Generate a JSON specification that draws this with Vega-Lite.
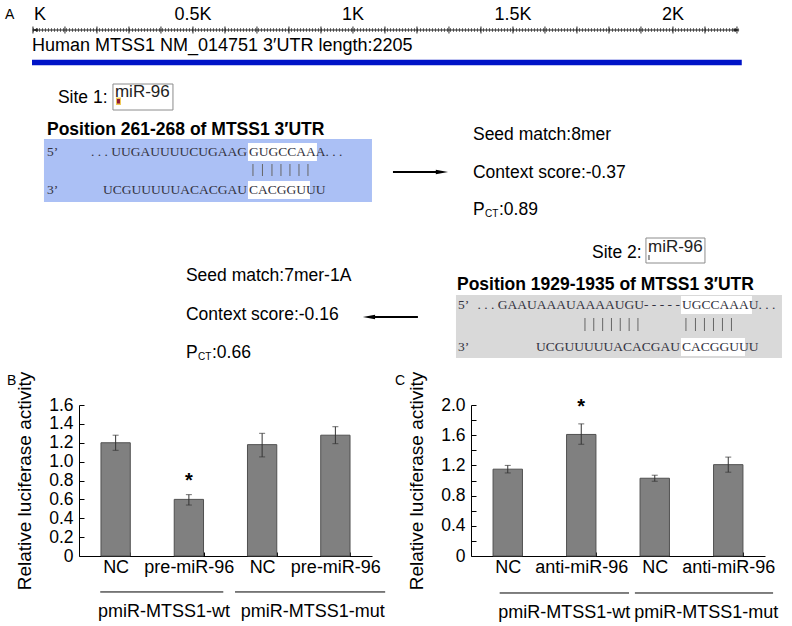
{
  "$schema": "https://vega.github.io/schema/vega-lite/v6.json",
  "padding": 0,
  "background": "white",
  "bounds": "flush",
  "spacing": 10,
  "config": {
    "font": "Liberation Sans",
    "view": {"stroke": null},
    "text": {"font": "Liberation Sans"},
    "axis": {"domainColor": "black", "tickColor": "black", "labelColor": "black", "titleColor": "black", "grid": false, "labelFont": "Liberation Sans", "titleFont": "Liberation Sans", "labelOverlap": false},
    "axisY": {"labelOverlap": false}
  },
  "vconcat": [
    {
      "width": 792,
      "height": 395,
      "encoding": {
        "x": {"field": "x", "type": "quantitative", "scale": {"domain": [-103, 2372], "nice": false, "zero": false}, "axis": null},
        "y": {"field": "y", "type": "quantitative", "scale": {"domain": [0, 395], "nice": false, "zero": false, "reverse": true}, "axis": null}
      },
      "layer": [
        {
          "data": {"values": [
            {"k": "blue", "x": 34.4, "x2": 1059.4, "y": 139, "y2": 202},
            {"k": "gray", "x": 1321.9, "x2": 2340.6, "y": 295, "y2": 358},
            {"k": "white", "x": 671.9, "x2": 887.5, "y": 143, "y2": 161},
            {"k": "white", "x": 671.9, "x2": 865.6, "y": 181, "y2": 199},
            {"k": "white", "x": 2025, "x2": 2246.9, "y": 296, "y2": 314},
            {"k": "white", "x": 2025, "x2": 2225, "y": 338, "y2": 356}
          ]},
          "mark": {"type": "rect"},
          "encoding": {
            "x2": {"field": "x2"}, "y2": {"field": "y2"},
            "fill": {"field": "k", "type": "nominal", "scale": {"domain": ["blue", "gray", "white", "yellow", "red", "mark"], "range": ["#abc0f5", "#d9d9d9", "#ffffff", "#f0c850", "#8e1838", "#9a9a9a"]}, "legend": null}
          }
        },
        {
          "data": {"values": [
            {"x": 250, "x2": 437.5, "y": 84, "y2": 110},
            {"x": 1915.6, "x2": 2100, "y": 238, "y2": 263}
          ]},
          "mark": {"type": "rect", "fill": "white", "stroke": "#8c8c8c", "strokeWidth": 1},
          "encoding": {"x2": {"field": "x2"}, "y2": {"field": "y2"}}
        },
        {
          "data": {"values": [
            {"k": "yellow", "x": 259.4, "x2": 275, "y": 97.5, "y2": 105},
            {"k": "red", "x": 262.5, "x2": 271.9, "y": 99, "y2": 103.5},
            {"k": "mark", "x": 1921.9, "x2": 1928.1, "y": 255, "y2": 260}
          ]},
          "mark": {"type": "rect"},
          "encoding": {
            "x2": {"field": "x2"}, "y2": {"field": "y2"},
            "fill": {"field": "k", "type": "nominal", "scale": {"domain": ["blue", "gray", "white", "yellow", "red", "mark"], "range": ["#abc0f5", "#d9d9d9", "#ffffff", "#f0c850", "#8e1838", "#9a9a9a"]}, "legend": null}
          }
        },
        {
          "data": {"values": [{"x": 0, "x2": 2205, "y": 30}]},
          "mark": {"type": "rule", "color": "#222222", "strokeWidth": 1},
          "encoding": {"x2": {"field": "x2"}}
        },
        {
          "data": {"values": [{"x": 0, "x2": 2205, "y": 30}]},
          "mark": {"type": "rule", "color": "#444444", "strokeWidth": 3.5, "strokeDash": [1, 2]},
          "encoding": {"x2": {"field": "x2"}}
        },
        {
          "data": {"values": [
            {"x": 0, "y": 26.5, "y2": 33.5}, {"x": 100, "y": 26.5, "y2": 33.5}, {"x": 200, "y": 26.5, "y2": 33.5},
            {"x": 300, "y": 26.5, "y2": 33.5}, {"x": 400, "y": 26.5, "y2": 33.5}, {"x": 500, "y": 26.5, "y2": 33.5},
            {"x": 600, "y": 26.5, "y2": 33.5}, {"x": 700, "y": 26.5, "y2": 33.5}, {"x": 800, "y": 26.5, "y2": 33.5},
            {"x": 900, "y": 26.5, "y2": 33.5}, {"x": 1000, "y": 26.5, "y2": 33.5}, {"x": 1100, "y": 26.5, "y2": 33.5},
            {"x": 1200, "y": 26.5, "y2": 33.5}, {"x": 1300, "y": 26.5, "y2": 33.5}, {"x": 1400, "y": 26.5, "y2": 33.5},
            {"x": 1500, "y": 26.5, "y2": 33.5}, {"x": 1600, "y": 26.5, "y2": 33.5}, {"x": 1700, "y": 26.5, "y2": 33.5},
            {"x": 1800, "y": 26.5, "y2": 33.5}, {"x": 1900, "y": 26.5, "y2": 33.5}, {"x": 2000, "y": 26.5, "y2": 33.5},
            {"x": 2100, "y": 26.5, "y2": 33.5}, {"x": 2200, "y": 26.5, "y2": 33.5}
          ]},
          "mark": {"type": "rule", "color": "#222222", "strokeWidth": 1},
          "encoding": {"y2": {"field": "y2"}}
        },
        {
          "data": {"values": [{"x": 6, "y": 30}]},
          "mark": {"type": "point", "shape": "M 1 -0.6 L -1 0 L 1 0.6 Z", "filled": true, "color": "#222222", "opacity": 1, "size": 36},
          "encoding": {}
        },
        {
          "data": {"values": [{"x": 2199, "y": 30}]},
          "mark": {"type": "point", "shape": "M -1 -0.6 L 1 0 L -1 0.6 Z", "filled": true, "color": "#222222", "opacity": 1, "size": 36},
          "encoding": {}
        },
        {
          "data": {"values": [{"x": -3, "x2": 2215, "y": 62.5}]},
          "mark": {"type": "rule", "color": "#0013c7", "strokeWidth": 5.5},
          "encoding": {"x2": {"field": "x2"}}
        },
        {
          "data": {"values": [
            {"x": 1125, "x2": 1278, "y": 172},
            {"x": 1050, "x2": 1203, "y": 317}
          ]},
          "mark": {"type": "rule", "color": "black", "strokeWidth": 2},
          "encoding": {"x2": {"field": "x2"}}
        },
        {
          "data": {"values": [{"x": 1278, "y": 172}]},
          "mark": {"type": "point", "shape": "M -1 -0.35 L 1 0 L -1 0.35 Z", "filled": true, "color": "black", "opacity": 1, "size": 150},
          "encoding": {}
        },
        {
          "data": {"values": [{"x": 1050, "y": 317}]},
          "mark": {"type": "point", "shape": "M 1 -0.35 L -1 0 L 1 0.35 Z", "filled": true, "color": "black", "opacity": 1, "size": 150},
          "encoding": {}
        },
        {
          "data": {"values": [
            {"x": 687.5, "y": 164, "y2": 176}, {"x": 717.2, "y": 164, "y2": 176}, {"x": 746.9, "y": 164, "y2": 176},
            {"x": 775, "y": 164, "y2": 176}, {"x": 803.1, "y": 164, "y2": 176}, {"x": 831.3, "y": 164, "y2": 176},
            {"x": 859.4, "y": 164, "y2": 176},
            {"x": 1725, "y": 318, "y2": 331}, {"x": 1752.5, "y": 318, "y2": 331}, {"x": 1780.3, "y": 318, "y2": 331},
            {"x": 1807.8, "y": 318, "y2": 331}, {"x": 1835.3, "y": 318, "y2": 331}, {"x": 1863.1, "y": 318, "y2": 331},
            {"x": 1890.6, "y": 318, "y2": 331},
            {"x": 2040.6, "y": 318, "y2": 331}, {"x": 2070.3, "y": 318, "y2": 331}, {"x": 2098.4, "y": 318, "y2": 331},
            {"x": 2126.6, "y": 318, "y2": 331}, {"x": 2154.7, "y": 318, "y2": 331}, {"x": 2182.8, "y": 318, "y2": 331}
          ]},
          "mark": {"type": "rule", "color": "#666666", "strokeWidth": 1},
          "encoding": {"y2": {"field": "y2"}}
        },
        {
          "data": {"values": [
            {"x": 78.1, "y": 98, "t": "Site 1:"},
            {"x": 1375, "y": 135, "t": "Seed match:8mer"},
            {"x": 1375, "y": 173, "t": "Context score:-0.37"},
            {"x": 1375, "y": 210, "t": "P"},
            {"x": 1456.25, "y": 210, "t": ":0.89"},
            {"x": 1746.9, "y": 253, "t": "Site 2:"},
            {"x": 478.1, "y": 276, "t": "Seed match:7mer-1A"},
            {"x": 478.1, "y": 315, "t": "Context score:-0.16"},
            {"x": 478.1, "y": 353, "t": "P"},
            {"x": 559.4, "y": 353, "t": ":0.66"}
          ]},
          "mark": {"type": "text", "align": "left", "baseline": "middle", "fontSize": 17.5, "color": "black"},
          "encoding": {"text": {"field": "t"}}
        },
        {
          "data": {"values": [
            {"x": 256.25, "y": 92, "t": "miR-96"},
            {"x": 1921.9, "y": 247, "t": "miR-96"}
          ]},
          "mark": {"type": "text", "align": "left", "baseline": "middle", "fontSize": 17, "color": "#222222"},
          "encoding": {"text": {"field": "t"}}
        },
        {
          "data": {"values": [
            {"x": 43.75, "y": 130, "t": "Position 261-268 of MTSS1 3′UTR"},
            {"x": 1325, "y": 285, "t": "Position 1929-1935 of MTSS1 3′UTR"}
          ]},
          "mark": {"type": "text", "align": "left", "baseline": "middle", "fontSize": 17.5, "fontWeight": "bold", "color": "black"},
          "encoding": {"text": {"field": "t"}}
        },
        {
          "data": {"values": [
            {"x": -3, "y": 46, "t": "Human MTSS1 NM_014751 3′UTR length:2205"}
          ]},
          "mark": {"type": "text", "align": "left", "baseline": "middle", "fontSize": 18, "color": "black"},
          "encoding": {"text": {"field": "t"}}
        },
        {
          "data": {"values": [
            {"x": 22, "y": 15, "t": "K"},
            {"x": 500, "y": 15, "t": "0.5K"},
            {"x": 1000, "y": 15, "t": "1K"},
            {"x": 1500, "y": 15, "t": "1.5K"},
            {"x": 2000, "y": 15, "t": "2K"}
          ]},
          "mark": {"type": "text", "align": "center", "baseline": "middle", "fontSize": 18, "color": "black"},
          "encoding": {"text": {"field": "t"}}
        },
        {
          "data": {"values": [
            {"x": -87.5, "y": 15, "t": "A"},
            {"x": -81, "y": 381, "t": "B"},
            {"x": 1131, "y": 381, "t": "C"}
          ]},
          "mark": {"type": "text", "align": "left", "baseline": "middle", "fontSize": 14, "color": "black"},
          "encoding": {"text": {"field": "t"}}
        },
        {
          "data": {"values": [
            {"x": 1412.5, "y": 213.5, "t": "CT"},
            {"x": 515.6, "y": 356.5, "t": "CT"}
          ]},
          "mark": {"type": "text", "align": "left", "baseline": "middle", "fontSize": 10, "color": "black"},
          "encoding": {"text": {"field": "t"}}
        },
        {
          "data": {"values": [
            {"x": 43.75, "y": 152, "t": "5’"},
            {"x": 43.75, "y": 190, "t": "3’"},
            {"x": 675, "y": 152, "t": "GUGCCAAA. . ."},
            {"x": 675, "y": 190, "t": "CACGGUUU"},
            {"x": 1328, "y": 305, "t": "5’"},
            {"x": 1328, "y": 347, "t": "3’"},
            {"x": 2028, "y": 305, "t": "UGCCAAAU. . ."},
            {"x": 2028, "y": 347, "t": "CACGGUUU"}
          ]},
          "mark": {"type": "text", "align": "left", "baseline": "middle", "fontSize": 13.5, "font": "Liberation Serif", "color": "#333340"},
          "encoding": {"text": {"field": "t"}}
        },
        {
          "data": {"values": [
            {"x": 668.75, "y": 152, "t": ". . . UUGAUUUUCUGAAG"},
            {"x": 668.75, "y": 190, "t": "UCGUUUUUACACGAU"},
            {"x": 2021.9, "y": 305, "t": ". . . GAAUAAAUAAAAUGU- - - - -"},
            {"x": 2021.9, "y": 347, "t": "UCGUUUUUACACGAU"}
          ]},
          "mark": {"type": "text", "align": "right", "baseline": "middle", "fontSize": 13.5, "font": "Liberation Serif", "color": "#333340"},
          "encoding": {"text": {"field": "t"}}
        }
      ]
    },
    {
      "bounds": "flush",
      "spacing": 0,
      "hconcat": [
        {"width": 79, "height": 151, "data": {"values": []}, "mark": "point"},
        {
          "width": 293,
          "height": 151,
          "layer": [
            {
              "data": {"values": [
                {"key": "NC|wt", "value": 1.2, "lo": 1.12, "hi": 1.28, "sig": "", "sy": 0},
                {"key": "pre-miR-96|wt", "value": 0.6, "lo": 0.54, "hi": 0.65, "sig": "*", "sy": 0.8},
                {"key": "NC|mut", "value": 1.18, "lo": 1.05, "hi": 1.3, "sig": "", "sy": 0},
                {"key": "pre-miR-96|mut", "value": 1.28, "lo": 1.19, "hi": 1.37, "sig": "", "sy": 0}
              ]},
              "encoding": {
                "x": {"field": "key", "type": "nominal", "sort": null, "scale": {"paddingInner": 0.6, "paddingOuter": 0.3},
                  "axis": {"title": null, "labelExpr": "isString(datum.value) ? split(datum.value, '|')[0] : ''", "labelAngle": 0, "labelFontSize": 18, "labelPadding": 6, "tickBand": "extent", "tickSize": -4}}
              },
              "layer": [
                {
                  "mark": {"type": "bar", "fill": "#808080", "stroke": "#505050", "strokeWidth": 1},
                  "encoding": {"y": {"field": "value", "type": "quantitative", "title": "Relative luciferase activity", "scale": {"domain": [0, 1.6], "nice": false},
                    "axis": {"values": [0, 0.2, 0.4, 0.6, 0.8, 1.0, 1.2, 1.4, 1.6], "labelExpr": "datum.value == 0 ? '0' : format(datum.value, '.1f')", "labelOverlap": false, "labelFontSize": 17.5, "labelPadding": 11, "tickSize": -5, "titleFontSize": 19, "titleFontWeight": "normal", "titlePadding": 14}}}
                },
                {
                  "mark": {"type": "rule", "color": "#333333", "strokeWidth": 1},
                  "encoding": {"y": {"field": "lo", "type": "quantitative", "title": "Relative luciferase activity",
                    "axis": {"values": [0, 0.2, 0.4, 0.6, 0.8, 1.0, 1.2, 1.4, 1.6], "labelExpr": "datum.value == 0 ? '0' : format(datum.value, '.1f')", "labelOverlap": false, "labelFontSize": 17.5, "labelPadding": 11, "tickSize": -5, "titleFontSize": 19, "titleFontWeight": "normal", "titlePadding": 14}}, "y2": {"field": "hi"}}
                },
                {
                  "mark": {"type": "tick", "color": "#333333", "size": 6, "thickness": 1},
                  "encoding": {"y": {"field": "lo", "type": "quantitative", "title": "Relative luciferase activity",
                    "axis": {"values": [0, 0.2, 0.4, 0.6, 0.8, 1.0, 1.2, 1.4, 1.6], "labelExpr": "datum.value == 0 ? '0' : format(datum.value, '.1f')", "labelOverlap": false, "labelFontSize": 17.5, "labelPadding": 11, "tickSize": -5, "titleFontSize": 19, "titleFontWeight": "normal", "titlePadding": 14}}}
                },
                {
                  "mark": {"type": "tick", "color": "#333333", "size": 6, "thickness": 1},
                  "encoding": {"y": {"field": "hi", "type": "quantitative", "title": "Relative luciferase activity",
                    "axis": {"values": [0, 0.2, 0.4, 0.6, 0.8, 1.0, 1.2, 1.4, 1.6], "labelExpr": "datum.value == 0 ? '0' : format(datum.value, '.1f')", "labelOverlap": false, "labelFontSize": 17.5, "labelPadding": 11, "tickSize": -5, "titleFontSize": 19, "titleFontWeight": "normal", "titlePadding": 14}}}
                },
                {
                  "mark": {"type": "text", "fontSize": 20, "fontWeight": "bold", "baseline": "middle", "color": "black"},
                  "encoding": {"y": {"field": "sy", "type": "quantitative", "title": "Relative luciferase activity",
                    "axis": {"values": [0, 0.2, 0.4, 0.6, 0.8, 1.0, 1.2, 1.4, 1.6], "labelExpr": "datum.value == 0 ? '0' : format(datum.value, '.1f')", "labelOverlap": false, "labelFontSize": 17.5, "labelPadding": 11, "tickSize": -5, "titleFontSize": 19, "titleFontWeight": "normal", "titlePadding": 14}}, "text": {"field": "sig"}}
                }
              ]
            },
            {
              "data": {"values": [
                {"g": "pmiR-MTSS1-wt", "a": 0.29, "b": 1.97, "m": 1.16},
                {"g": "pmiR-MTSS1-mut", "a": 2.13, "b": 4.18, "m": 3.19}
              ]},
              "layer": [
                {
                  "mark": {"type": "rule", "color": "black", "strokeWidth": 1, "clip": false},
                  "encoding": {
                    "x": {"field": "a", "type": "quantitative", "scale": {"domain": [0, 4], "nice": false, "zero": false}, "axis": null},
                    "x2": {"field": "b"},
                    "y": {"datum": -0.381, "type": "quantitative", "scale": {"domain": [0, 1.6], "nice": false}, "axis": null}
                  }
                },
                {
                  "mark": {"type": "text", "fontSize": 18, "baseline": "middle", "color": "black", "clip": false},
                  "encoding": {
                    "x": {"field": "m", "type": "quantitative", "scale": {"domain": [0, 4], "nice": false, "zero": false}, "axis": null},
                    "y": {"datum": -0.593, "type": "quantitative", "scale": {"domain": [0, 1.6], "nice": false}, "axis": null},
                    "text": {"field": "g"}
                  }
                }
              ]
            }
          ],
          "resolve": {"scale": {"x": "independent", "y": "independent"}}
        },
        {"width": 99, "height": 151, "data": {"values": []}, "mark": "point"},
        {
          "width": 294,
          "height": 151,
          "layer": [
            {
              "data": {"values": [
                {"key": "NC|wt", "value": 1.15, "lo": 1.1, "hi": 1.2, "sig": "", "sy": 0},
                {"key": "anti-miR-96|wt", "value": 1.61, "lo": 1.48, "hi": 1.75, "sig": "*", "sy": 1.97},
                {"key": "NC|mut", "value": 1.03, "lo": 0.99, "hi": 1.07, "sig": "", "sy": 0},
                {"key": "anti-miR-96|mut", "value": 1.21, "lo": 1.11, "hi": 1.31, "sig": "", "sy": 0}
              ]},
              "encoding": {
                "x": {"field": "key", "type": "nominal", "sort": null, "scale": {"paddingInner": 0.6, "paddingOuter": 0.3},
                  "axis": {"title": null, "labelExpr": "isString(datum.value) ? split(datum.value, '|')[0] : ''", "labelAngle": 0, "labelFontSize": 18, "labelPadding": 6, "tickBand": "extent", "tickSize": -4}}
              },
              "layer": [
                {
                  "mark": {"type": "bar", "fill": "#808080", "stroke": "#505050", "strokeWidth": 1},
                  "encoding": {"y": {"field": "value", "type": "quantitative", "title": "Relative luciferase activity", "scale": {"domain": [0, 2.0], "nice": false},
                    "axis": {"values": [0, 0.2, 0.4, 0.6, 0.8, 1.0, 1.2, 1.4, 1.6, 1.8, 2.0], "labelExpr": "datum.value == 0 ? '0' : (round(datum.value * 10) % 4 == 0 ? format(datum.value, '.1f') : '')", "labelOverlap": false, "labelFontSize": 17.5, "labelPadding": 11, "tickSize": -5, "titleFontSize": 19, "titleFontWeight": "normal", "titlePadding": 14}}}
                },
                {
                  "mark": {"type": "rule", "color": "#333333", "strokeWidth": 1},
                  "encoding": {"y": {"field": "lo", "type": "quantitative", "title": "Relative luciferase activity",
                    "axis": {"values": [0, 0.2, 0.4, 0.6, 0.8, 1.0, 1.2, 1.4, 1.6, 1.8, 2.0], "labelExpr": "datum.value == 0 ? '0' : (round(datum.value * 10) % 4 == 0 ? format(datum.value, '.1f') : '')", "labelOverlap": false, "labelFontSize": 17.5, "labelPadding": 11, "tickSize": -5, "titleFontSize": 19, "titleFontWeight": "normal", "titlePadding": 14}}, "y2": {"field": "hi"}}
                },
                {
                  "mark": {"type": "tick", "color": "#333333", "size": 6, "thickness": 1},
                  "encoding": {"y": {"field": "lo", "type": "quantitative", "title": "Relative luciferase activity",
                    "axis": {"values": [0, 0.2, 0.4, 0.6, 0.8, 1.0, 1.2, 1.4, 1.6, 1.8, 2.0], "labelExpr": "datum.value == 0 ? '0' : (round(datum.value * 10) % 4 == 0 ? format(datum.value, '.1f') : '')", "labelOverlap": false, "labelFontSize": 17.5, "labelPadding": 11, "tickSize": -5, "titleFontSize": 19, "titleFontWeight": "normal", "titlePadding": 14}}}
                },
                {
                  "mark": {"type": "tick", "color": "#333333", "size": 6, "thickness": 1},
                  "encoding": {"y": {"field": "hi", "type": "quantitative", "title": "Relative luciferase activity",
                    "axis": {"values": [0, 0.2, 0.4, 0.6, 0.8, 1.0, 1.2, 1.4, 1.6, 1.8, 2.0], "labelExpr": "datum.value == 0 ? '0' : (round(datum.value * 10) % 4 == 0 ? format(datum.value, '.1f') : '')", "labelOverlap": false, "labelFontSize": 17.5, "labelPadding": 11, "tickSize": -5, "titleFontSize": 19, "titleFontWeight": "normal", "titlePadding": 14}}}
                },
                {
                  "mark": {"type": "text", "fontSize": 20, "fontWeight": "bold", "baseline": "middle", "color": "black"},
                  "encoding": {"y": {"field": "sy", "type": "quantitative", "title": "Relative luciferase activity",
                    "axis": {"values": [0, 0.2, 0.4, 0.6, 0.8, 1.0, 1.2, 1.4, 1.6, 1.8, 2.0], "labelExpr": "datum.value == 0 ? '0' : (round(datum.value * 10) % 4 == 0 ? format(datum.value, '.1f') : '')", "labelOverlap": false, "labelFontSize": 17.5, "labelPadding": 11, "tickSize": -5, "titleFontSize": 19, "titleFontWeight": "normal", "titlePadding": 14}}, "text": {"field": "sig"}}
                }
              ]
            },
            {
              "data": {"values": [
                {"g": "pmiR-MTSS1-wt", "a": 0.39, "b": 2.15, "m": 1.27},
                {"g": "pmiR-MTSS1-mut", "a": 2.23, "b": 4.11, "m": 3.2}
              ]},
              "layer": [
                {
                  "mark": {"type": "rule", "color": "black", "strokeWidth": 1, "clip": false},
                  "encoding": {
                    "x": {"field": "a", "type": "quantitative", "scale": {"domain": [0, 4], "nice": false, "zero": false}, "axis": null},
                    "x2": {"field": "b"},
                    "y": {"datum": -0.49, "type": "quantitative", "scale": {"domain": [0, 2.0], "nice": false}, "axis": null}
                  }
                },
                {
                  "mark": {"type": "text", "fontSize": 18, "baseline": "middle", "color": "black", "clip": false},
                  "encoding": {
                    "x": {"field": "m", "type": "quantitative", "scale": {"domain": [0, 4], "nice": false, "zero": false}, "axis": null},
                    "y": {"datum": -0.755, "type": "quantitative", "scale": {"domain": [0, 2.0], "nice": false}, "axis": null},
                    "text": {"field": "g"}
                  }
                }
              ]
            }
          ],
          "resolve": {"scale": {"x": "independent", "y": "independent"}}
        }
      ]
    }
  ]
}
